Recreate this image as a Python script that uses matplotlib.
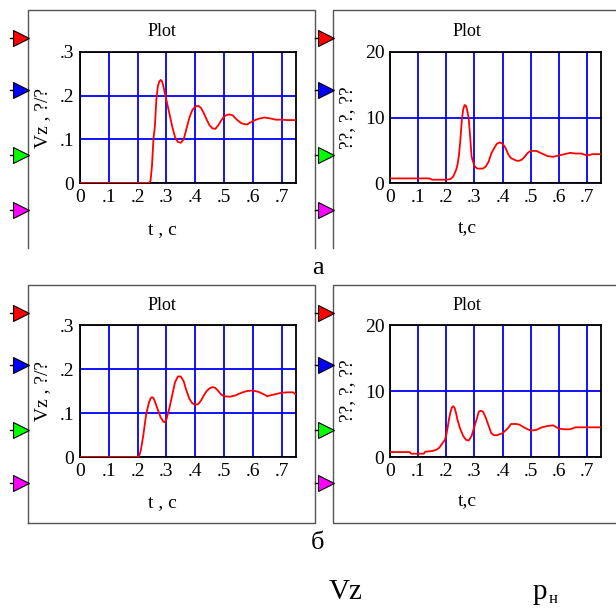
import matplotlib
matplotlib.use("Agg")
import matplotlib.pyplot as plt

plt.rcParams['font.family'] = ['Liberation Serif', 'DejaVu Serif']

# --- data ---
# panel a, left: vertical speed Vz
t_vz_a = [0, 0.24, 0.245, 0.25, 0.255, 0.26, 0.265, 0.27, 0.275, 0.28, 0.285, 0.29, 0.295, 0.30,
          0.31, 0.32, 0.33, 0.34, 0.35, 0.36, 0.37, 0.38, 0.39, 0.40, 0.41, 0.42, 0.43, 0.44, 0.45,
          0.46, 0.47, 0.48, 0.49, 0.50, 0.51, 0.52, 0.53, 0.54, 0.55, 0.56, 0.57, 0.58, 0.59, 0.60,
          0.62, 0.64, 0.66, 0.68, 0.70, 0.72, 0.75]
vz_a = [0, 0, 0.005, 0.04, 0.10, 0.13, 0.19, 0.22, 0.232, 0.236, 0.233, 0.22, 0.205, 0.19,
        0.16, 0.13, 0.105, 0.094, 0.092, 0.10, 0.125, 0.15, 0.167, 0.175, 0.177, 0.172, 0.16, 0.145, 0.132,
        0.125, 0.124, 0.132, 0.143, 0.152, 0.156, 0.157, 0.155, 0.148, 0.142, 0.137, 0.135, 0.134, 0.138, 0.142,
        0.147, 0.15, 0.148, 0.145, 0.145, 0.144, 0.144]

# panel a, right: pressure p
t_p_a = [0, 0.10, 0.14, 0.15, 0.20, 0.215, 0.225, 0.235, 0.24, 0.245, 0.25, 0.255, 0.26, 0.265, 0.27,
         0.275, 0.28, 0.285, 0.29, 0.30, 0.31, 0.33, 0.34, 0.35, 0.36, 0.37, 0.38, 0.39, 0.40, 0.41,
         0.42, 0.43, 0.44, 0.45, 0.46, 0.47, 0.48, 0.49, 0.50, 0.52, 0.53, 0.54, 0.56, 0.58, 0.60,
         0.62, 0.64, 0.66, 0.68, 0.70, 0.72, 0.75]
p_a = [0.7, 0.7, 0.7, 0.5, 0.5, 0.6, 1.0, 2.0, 2.8, 4.2, 6.5, 9.5, 11.2, 11.9, 11.8,
       11.0, 9.8, 7.0, 4.0, 2.6, 2.2, 2.2, 2.5, 3.2, 4.5, 5.3, 6.0, 6.2, 6.0, 5.4,
       4.4, 3.8, 3.6, 3.4, 3.4, 3.6, 4.1, 4.6, 4.9, 4.9, 4.7, 4.5, 4.1, 4.0, 4.2,
       4.4, 4.6, 4.5, 4.5, 4.2, 4.4, 4.4]

# panel б, left
t_vz_b = [0, 0.20, 0.205, 0.21, 0.215, 0.22, 0.225, 0.23, 0.235, 0.24, 0.245, 0.25, 0.255, 0.26,
          0.27, 0.28, 0.29, 0.295, 0.30, 0.31, 0.32, 0.33, 0.34, 0.35, 0.36, 0.37, 0.38, 0.39,
          0.40, 0.41, 0.42, 0.43, 0.44, 0.45, 0.46, 0.47, 0.48, 0.49, 0.50, 0.52, 0.54, 0.56,
          0.58, 0.60, 0.62, 0.64, 0.65, 0.66, 0.68, 0.70, 0.72, 0.74, 0.75]
vz_b = [0, 0, 0.002, 0.012, 0.03, 0.05, 0.075, 0.098, 0.112, 0.125, 0.133, 0.136, 0.134, 0.126,
        0.108, 0.09, 0.08, 0.079, 0.085, 0.11, 0.14, 0.17, 0.183, 0.183, 0.172, 0.15, 0.132, 0.122,
        0.119, 0.12, 0.128, 0.14, 0.15, 0.156, 0.159, 0.157, 0.15, 0.142, 0.138, 0.137, 0.14, 0.146,
        0.15, 0.151, 0.148, 0.142, 0.138, 0.14, 0.143, 0.146, 0.147, 0.147, 0.142]

# panel б, right
t_p_b = [0, 0.07, 0.075, 0.12, 0.125, 0.15, 0.165, 0.175, 0.185, 0.195, 0.20, 0.205, 0.21, 0.215,
         0.22, 0.225, 0.23, 0.235, 0.24, 0.25, 0.26, 0.27, 0.28, 0.29, 0.30, 0.31, 0.315, 0.32,
         0.33, 0.34, 0.35, 0.36, 0.37, 0.38, 0.40, 0.42, 0.43, 0.45, 0.46, 0.48, 0.50, 0.52,
         0.54, 0.56, 0.58, 0.60, 0.62, 0.64, 0.66, 0.70, 0.75]
p_b = [0.75, 0.75, 0.5, 0.5, 0.8, 0.9, 1.1, 1.4, 2.0, 2.6, 3.3, 4.5, 5.8, 6.8,
       7.5, 7.7, 7.4, 6.6, 5.6, 4.2, 3.2, 2.6, 2.5, 3.2, 4.6, 6.0, 6.8, 7.0,
       6.9, 6.0, 4.8, 3.6, 3.3, 3.3, 3.6, 4.4, 5.0, 5.0, 4.9, 4.4, 4.0, 4.1,
       4.5, 4.7, 4.8, 4.3, 4.2, 4.2, 4.5, 4.5, 4.5]

vz_ticks = [0, 0.1, 0.2, 0.3]
vz_ticklabels = ['0', '.1', '.2', '.3']
p_ticks = [0, 10, 20]
p_ticklabels = ['0', '10', '20']
t_ticks = [0, 0.1, 0.2, 0.3, 0.4, 0.5, 0.6, 0.7]
t_ticklabels = ['0', '.1', '.2', '.3', '.4', '.5', '.6', '.7']

W, H = 616, 608
fig = plt.figure(figsize=(W / 100, H / 100), dpi=100)


def box(x0, y0, x1, y1):
    # pixel box (top-left origin) -> figure fraction rect
    return [x0 / W, 1 - y1 / H, (x1 - x0) / W, (y1 - y0) / H]


# overlay for frames, side triangles and captions
ov = fig.add_axes([0, 0, 1, 1])
ov.set_xlim(0, W)
ov.set_ylim(H, 0)
ov.axis('off')

frame_col = '#555555'
# top row frames (no bottom edge visible)
ov.plot([28, 28, 315, 315], [248, 10, 10, 248], color=frame_col, lw=1)
ov.plot([333, 333, 620], [248, 10, 10], color=frame_col, lw=1)
# bottom row frames
ov.plot([28, 28, 315, 315, 28], [523, 285, 285, 523, 523], color=frame_col, lw=1)
ov.plot([620, 333, 333, 620], [285, 285, 523, 523], color=frame_col, lw=1)

tri_cols = ['#ff0000', '#0000ff', '#00ff00', '#ff00ff']
for xf in [28, 333]:
    for row_y in [[38, 90, 155, 210], [313, 365, 430, 483]]:
        for yy, c in zip(row_y, tri_cols):
            ov.plot([xf - 18, xf - 10], [yy, yy], color='black', lw=1)
            ov.plot([xf - 7], [yy], marker='>', markersize=11, color=c,
                    markeredgecolor='black', markeredgewidth=0.8)

ov.text(318, 268, 'а', fontsize=19, ha='center', va='center')
ov.text(318, 543, 'б', fontsize=19, ha='center', va='center')
ov.text(346, 599, 'Vz', fontsize=21, ha='center', va='baseline')
ov.text(540, 599, 'p', fontsize=21, ha='center', va='baseline')
ov.text(553, 603, 'н', fontsize=12, ha='center', va='baseline')


def rect_y(rect):
    # centre of axes in overlay pixel coords
    return H - (rect[1] + rect[3] / 2) * H


def panel(rect, t, v, ylim, yt, ytl, ylabel, xlabel, title_xy, ylab_x, xlab_y):
    ax = fig.add_axes(rect)
    ax.plot(t, v, color='#ff0000', lw=1.3, zorder=3)
    ax.set_xlim(0, 0.75)
    ax.set_ylim(*ylim)
    ax.set_xticks(t_ticks)
    ax.set_xticklabels(t_ticklabels)
    ax.set_yticks(yt)
    ax.set_yticklabels(ytl)
    ax.tick_params(length=0, labelsize=14, pad=4)
    ax.grid(True, color='#0000ff', lw=1.3)
    ax.set_axisbelow(True)
    for s in ax.spines.values():
        s.set_linewidth(1.3)
        s.set_color('black')
    ov.text(title_xy[0], title_xy[1], 'Plot', fontsize=13, ha='center', va='center')
    ov.text(ylab_x, rect_y(rect), ylabel, fontsize=14, ha='center', va='center', rotation=90)
    ov.text(title_xy[0], xlab_y, xlabel, fontsize=14, ha='center', va='center')
    return ax


panel(box(80, 52, 296, 183), t_vz_a, vz_a, (0, 0.3), vz_ticks, vz_ticklabels,
      'Vz , ?/?', 't , c', (162, 32), 43, 230)
panel(box(390, 52, 601, 183), t_p_a, p_a, (0, 20), p_ticks, p_ticklabels,
      '??, ?, ??', 't,c', (467, 32), 348, 228)
panel(box(80, 325, 296, 457), t_vz_b, vz_b, (0, 0.3), vz_ticks, vz_ticklabels,
      'Vz , ?/?', 't , c', (162, 306), 43, 503)
panel(box(390, 325, 601, 457), t_p_b, p_b, (0, 20), p_ticks, p_ticklabels,
      '??, ?, ??', 't,c', (467, 306), 348, 501)

fig.savefig('out.png', dpi=100)
